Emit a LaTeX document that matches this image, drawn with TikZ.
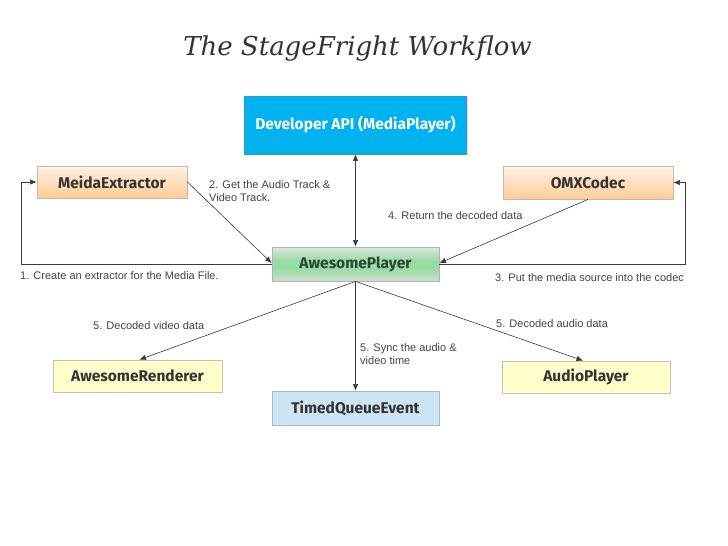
\documentclass[tikz,border=0pt]{standalone}
\usepackage{fontspec}
\setmainfont{Latin Modern Roman}
\newfontfamily\lblfont{Liberation Sans}
\newfontfamily\boxfont{Fira Sans}
\newfontfamily\titlefont{DejaVu Serif}
\usetikzlibrary{shadows,arrows.meta}
\definecolor{txtc}{HTML}{333333}
\definecolor{aptxt}{HTML}{2E4438}
\definecolor{lblc}{HTML}{444444}
\definecolor{linec}{HTML}{3A3A3A}
\definecolor{devfill}{HTML}{00B2F0}
\definecolor{devdraw}{HTML}{3399CC}
\definecolor{orgtop}{HTML}{FFF2E4}
\definecolor{orgbot}{HTML}{FFCC99}
\definecolor{orgdraw}{HTML}{C8B8A8}
\definecolor{grtop}{HTML}{DDE8E0}
\definecolor{grmid}{HTML}{98DCA4}
\definecolor{grbot}{HTML}{D2DCD6}
\definecolor{grdraw}{HTML}{A8BCAE}
\definecolor{yelfill}{HTML}{FFFFCC}
\definecolor{yeldraw}{HTML}{C4C4A8}
\definecolor{bluefill}{HTML}{CCE4F4}
\definecolor{bluedraw}{HTML}{A4B8C8}
\pgfdeclareverticalshading{apshade}{100bp}{color(0bp)=(grbot); color(25bp)=(grbot); color(43bp)=(grmid); color(55bp)=(grmid); color(75bp)=(grtop); color(100bp)=(grtop)}
\begin{document}
\begin{tikzpicture}[x=1pt,y=-1pt,
  boxbase/.style={rectangle, inner sep=0pt, line width=0.8pt,
    font=\boxfont\bfseries\fontsize{15.5}{18}\selectfont, text=txtc,
    drop shadow={opacity=0.25, shadow xshift=1pt, shadow yshift=-1pt}},
  devbox/.style={boxbase, fill=devfill, draw=devdraw, text=white},
  orgbox/.style={boxbase, draw=orgdraw, top color=orgtop, bottom color=orgbot},
  grbox/.style={boxbase, draw=grdraw, shading=apshade, text=aptxt},
  yelbox/.style={boxbase, draw=yeldraw, fill=yelfill},
  bluebox/.style={boxbase, draw=bluedraw, fill=bluefill},
  conn/.style={draw=linec, line width=0.6pt},
  arr/.style={conn, -{Latex[length=6.5pt,width=5.5pt]}},
  darr/.style={conn, {Latex[length=6.5pt,width=5.5pt]}-{Latex[length=6.5pt,width=5.5pt]}},
  lbl/.style={anchor=west, inner sep=0pt, align=left, text=lblc,
    font=\lblfont\fontsize{11}{12.5}\selectfont}
]
\useasboundingbox (0,0) rectangle (728,546);
\fill[white] (0,0) rectangle (728,546);

\node[anchor=base, text=txtc, inner sep=0pt, font=\titlefont\itshape\fontsize{26}{31}\selectfont] (title) at (357.5,55) {The StageFright Workflow};

\node[devbox, minimum width=222pt, minimum height=58pt] (dev) at (355.5,125) {Developer API (MediaPlayer)};
\node[orgbox, minimum width=150pt, minimum height=32pt] (ext) at (112,182) {MeidaExtractor};
\node[orgbox, minimum width=170pt, minimum height=33pt] (omx) at (588,182.5) {OMXCodec};
\node[grbox, minimum width=167pt, minimum height=34pt] (ap) at (355.5,264) {AwesomePlayer};
\node[yelbox, minimum width=169pt, minimum height=32pt] (ren) at (137.5,376) {AwesomeRenderer};
\node[bluebox, minimum width=167pt, minimum height=34pt] (tqe) at (355.5,408) {TimedQueueEvent};
\node[yelbox, minimum width=168pt, minimum height=32pt] (aud) at (586,377) {AudioPlayer};

\coordinate (l1) at (21,264);
\coordinate (l2) at (685,264);

\draw[darr] (dev.south) -- (ap.north);
\draw[arr] (ap.west) -- (l1) |- (ext.west);
\draw[arr] (ext.east) -- ([yshift=1pt]ap.west);
\draw[arr] (ap.east) -- (l2) |- (omx.east);
\draw[arr] (omx.south) -- ([yshift=1pt]ap.east);
\draw[arr] (ap.south) -- ([xshift=2pt]ren.north);
\draw[arr] (ap.south) -- (tqe.north);
\draw[arr] (ap.south) -- ([xshift=-3pt]aud.north);

\node[lbl] (lb2) at (209,191) {2. Get the Audio Track \&\\Video Track.};
\node[lbl] (lb1) at (20,276) {1. Create an extractor for the Media File.};
\node[lbl] (lb4) at (388,216) {4. Return the decoded data};
\node[lbl] (lb3) at (495,278) {3. Put the media source into the codec};
\node[lbl] (lb5a) at (93,326) {5. Decoded video data};
\node[lbl] (lb5b) at (360,354) {5. Sync the audio \&\\video time};
\node[lbl] (lb5c) at (496,324) {5. Decoded audio data};
\end{tikzpicture}
\end{document}
